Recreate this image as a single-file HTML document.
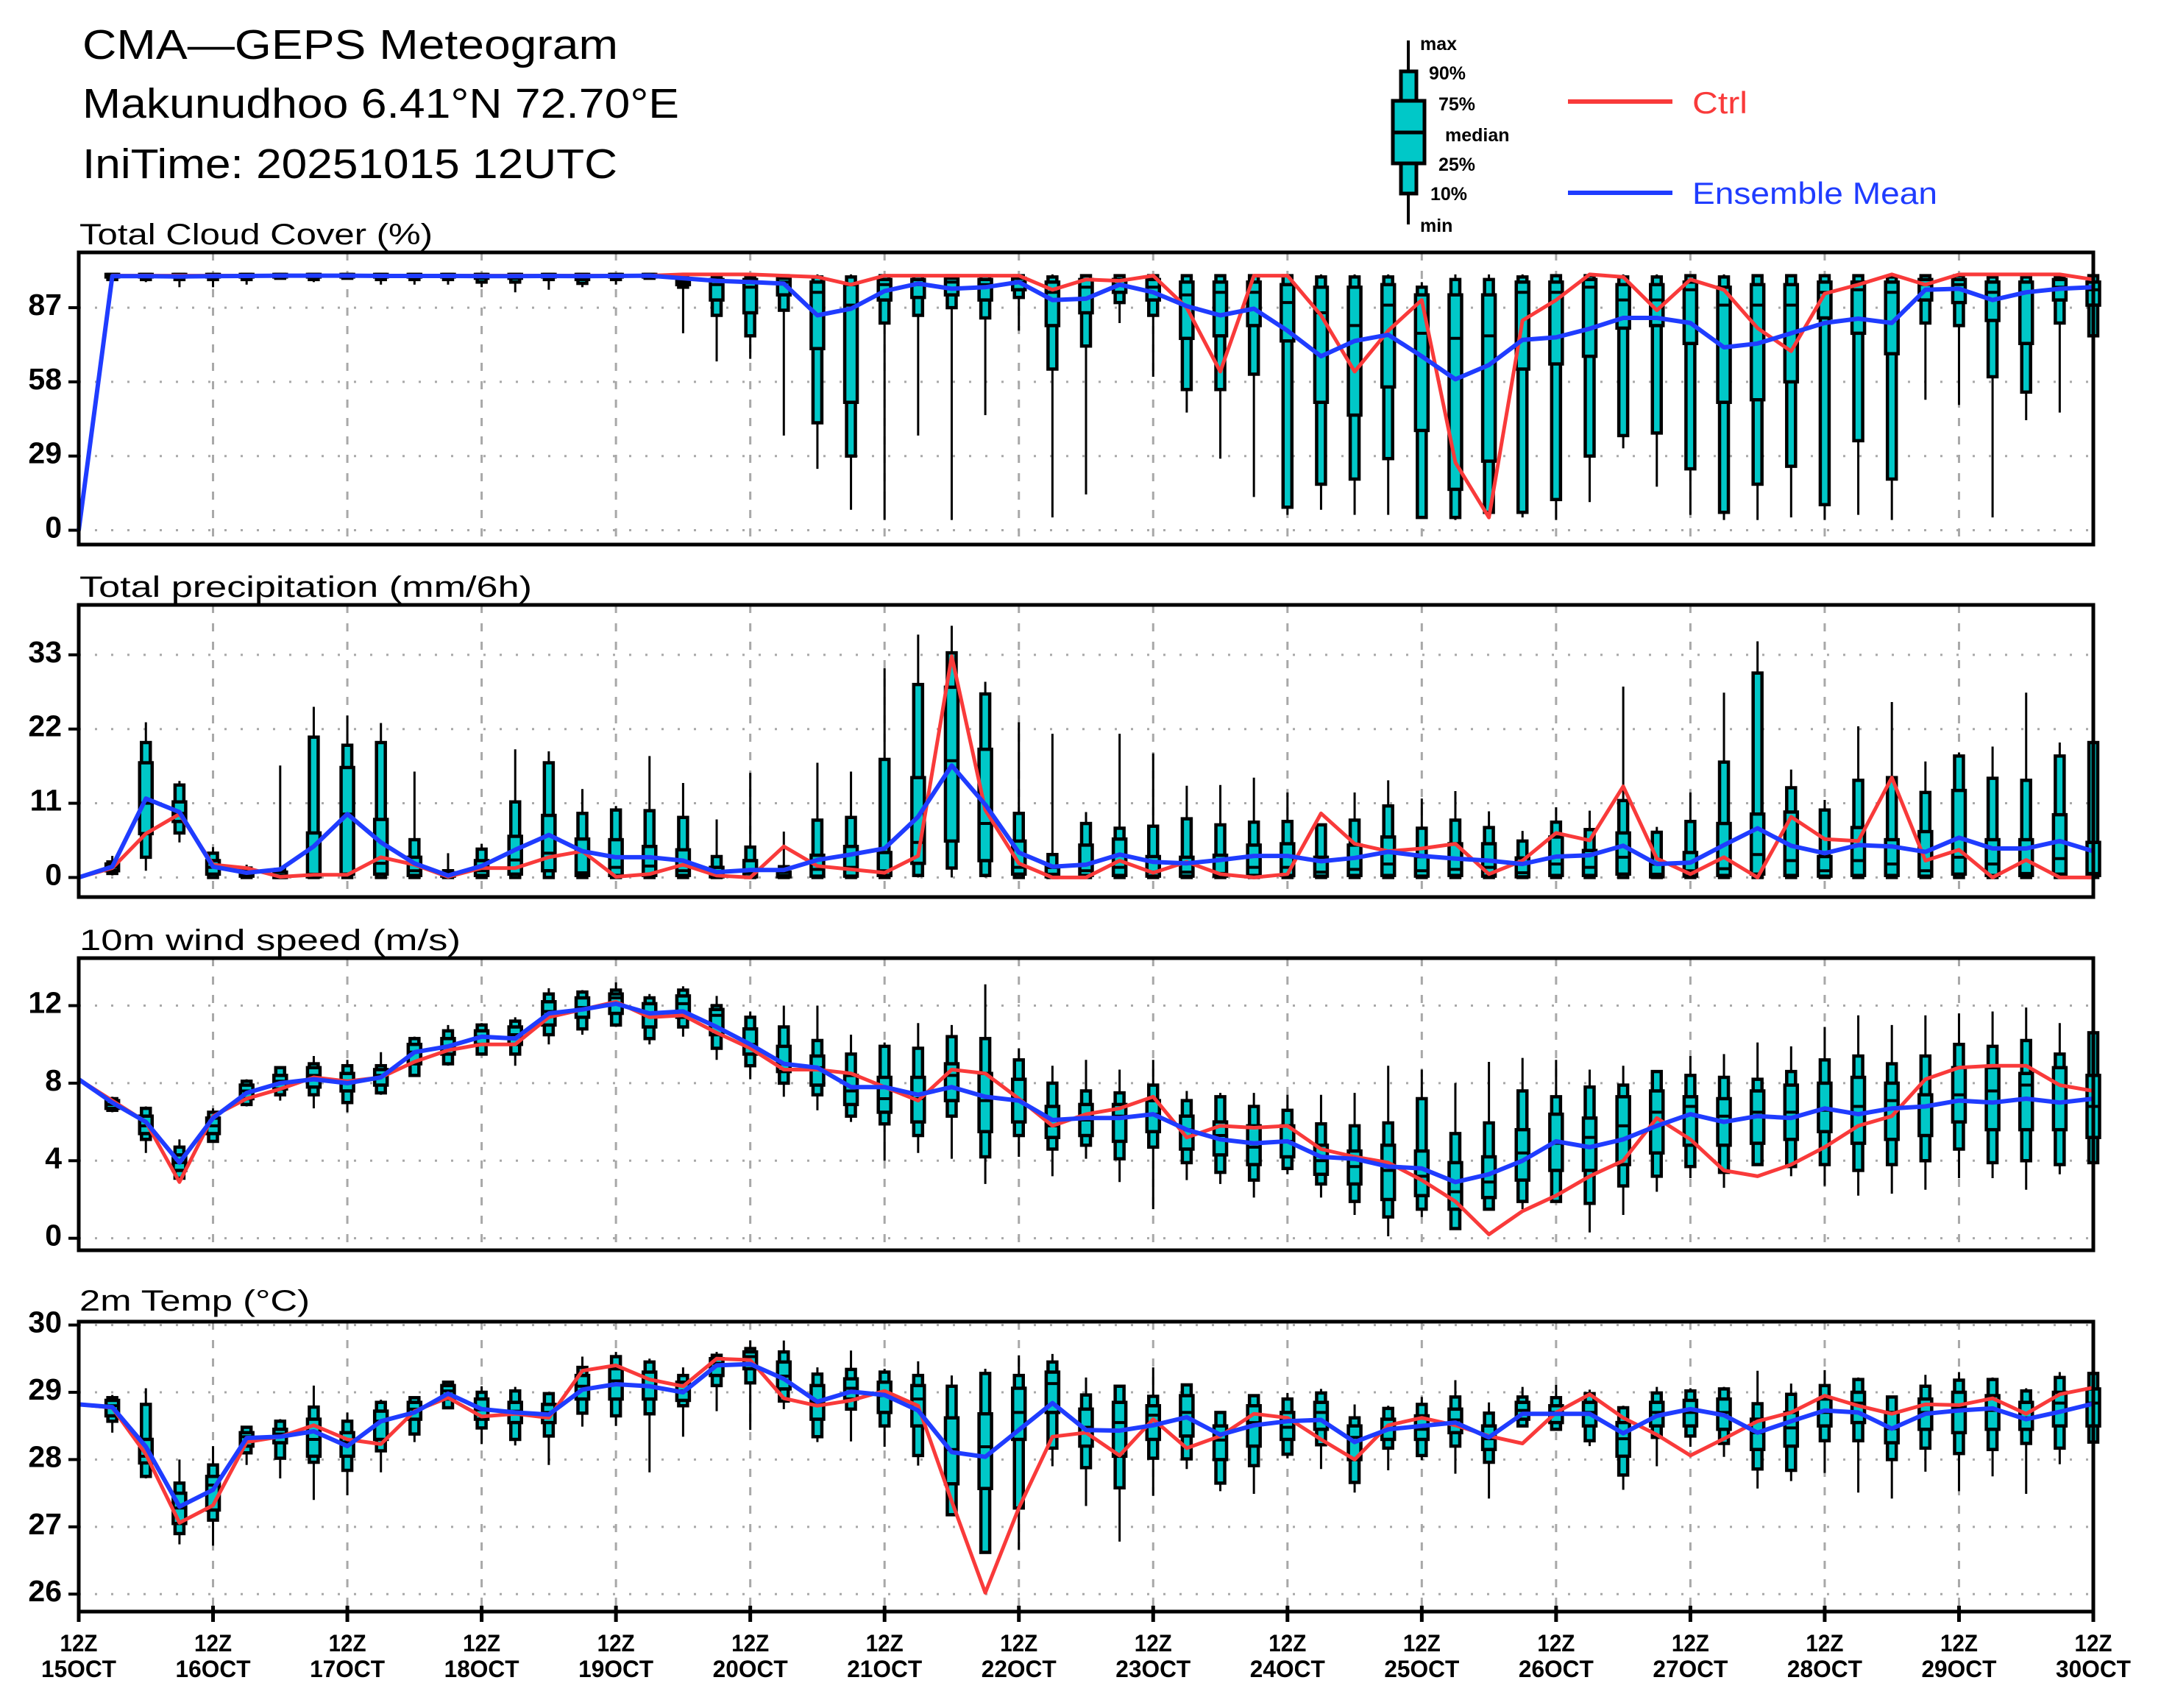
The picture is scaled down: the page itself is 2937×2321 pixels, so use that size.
<!DOCTYPE html>
<html><head><meta charset="utf-8"><style>
html,body{margin:0;padding:0;background:#fff;}
svg{display:block;}
text{font-family:"Liberation Sans",sans-serif;}
</style></head><body>
<svg id="chart" xmlns="http://www.w3.org/2000/svg" width="2937" height="2321" viewBox="0 0 2937 2321">
<rect x="0" y="0" width="2937" height="2321" fill="#fff"/>
<text x="112" y="80" font-size="57" textLength="728" lengthAdjust="spacingAndGlyphs">CMA—GEPS Meteogram</text>
<text x="112" y="160" font-size="57" textLength="811" lengthAdjust="spacingAndGlyphs">Makunudhoo 6.41°N 72.70°E</text>
<text x="112" y="242" font-size="57" textLength="727" lengthAdjust="spacingAndGlyphs">IniTime: 20251015 12UTC</text>
<g>
<line x1="1914" y1="55" x2="1914" y2="305" stroke="#000" stroke-width="4"/>
<rect x="1904" y="97" width="21" height="166" fill="#00c8c8" stroke="#000" stroke-width="5"/>
<rect x="1893" y="137" width="43" height="85" fill="#00c8c8" stroke="#000" stroke-width="5"/>
<line x1="1893" y1="180" x2="1936" y2="180" stroke="#000" stroke-width="5"/>
<g font-size="25" font-weight="bold">
<text x="1930" y="68">max</text><text x="1942" y="108">90%</text><text x="1955" y="150">75%</text>
<text x="1964" y="192">median</text><text x="1955" y="232">25%</text><text x="1944" y="272">10%</text><text x="1930" y="315">min</text>
</g></g>
<g>
<line x1="2131" y1="138" x2="2273" y2="138" stroke="#f93a3a" stroke-width="6"/>
<text x="2300" y="154" font-size="42" fill="#f93a3a" textLength="75" lengthAdjust="spacingAndGlyphs">Ctrl</text></g>
<g>
<line x1="2131" y1="262" x2="2273" y2="262" stroke="#1f3cff" stroke-width="6"/>
<text x="2300" y="277" font-size="42" fill="#1f3cff" textLength="333" lengthAdjust="spacingAndGlyphs">Ensemble Mean</text></g>
</svg>
<script>
// ---- data ----
const dayLabels = ["15OCT","16OCT","17OCT","18OCT","19OCT","20OCT","21OCT","22OCT","23OCT","24OCT","25OCT","26OCT","27OCT","28OCT","29OCT","30OCT"];
const cloudTicks = [0,29,58,87];
const precipTicks = [0,11,22,33];
const windTicks = [0,4,8,12];
const tempTicks = [26,27,28,29,30];
// boxes: [min,p10,p25,median,p75,p90,max], index 1..60
const cloudBox = [null,
[97,98,99,99.5,100,100,100],[97,98,99,99.5,100,100,100],[95,98,99,99.5,100,100,100],[95,98,99,99.5,100,100,100],[96,98,99,99.5,100,100,100],
[98,98.5,99,99.5,100,100,100],[97,98,99,99.5,100,100,100],[98,98.5,99,99.5,100,100,100],[96,98,99,99.5,100,100,100],[96,98,99,99.5,100,100,100],
[96,98,99,99.5,100,100,100],[95,97,98.5,99.5,100,100,100],[93,97,98.5,99.5,100,100,100],[94,98,99,99.5,100,100,100],[95,96.5,98,99.5,100,100,100],
[96,98,99,99.5,100,100,100],[98,98.5,99,99.5,100,100,100],[77,95,96,97,98,99,100],[66,84,90,96,98,99,100],[67,76,85,95,98,99,100],
[37,86,92,97,98.5,99.5,100],[24,42,71,93,97,99,100],[8,29,50,88,96,99,100],[4,81,90,96,98,99.5,100],[37,84,91,96,98,99.5,100],
[4,87,92,97,98.5,99.5,100],[45,83,90,96,98,99.5,100],[78,91,94,97,98.5,99.5,100],[5,63,80,93,97,99,100],[14,72,85,95,98,99.5,100],
[81,89,93,96,98,99.5,100],[60,84,90,95,98,99.5,100],[46,55,75,92,97,99.5,100],[28,55,76,93,97,99.5,100],[13,61,80,93,97,99.5,100],
[6,9,74,89,96,99.5,100],[8,18,50,85,95,99,100],[6,20,45,80,95,99,100],[6,28,56,88,96,99,100],[5,5,39,77,92,95,97],
[4,5,16,75,92,98,100],[5,7,27,76,92,98,100],[5,7,63,93,97,99,100],[4,12,65,93,97,99.5,100],[11,29,68,95,98,99.5,100],
[32,37,79,90,96,99,100],[17,38,80,90,96,99,100],[6,24,73,94,97,99.5,100],[4,7,50,88,95,99,100],[4,18,51,88,96,99.5,100],
[5,25,58,88,96,99.5,100],[4,10,83,93,97,99.5,100],[6,35,77,94,97,99.5,100],[4,20,69,93,97,99,100],[51,81,90,96,98,99.5,100],
[49,80,89,96,98,99.5,100],[5,60,82,93,97,99,100],[43,54,73,93,97,99,100],[46,81,90,95,98,99,100],[40,76,88,94,97,99.5,100]];
const cloudCtrl = [0,99.5,99.5,99.5,99.5,99.5,99.5,99.5,99.5,99.5,99.5,99.5,99.5,99.5,99.5,99.5,99.5,99.5,100,100,100,99.5,99,96,99.5,99.5,99.5,99.5,99.5,94,98,97.5,99.5,87,62,99.5,99.5,84,62,78,90,26.5,5,82,90,100,99,86,98,94,79,70,92.5,96,100,96,100,100,100,100,98];
const cloudMean = [0,99.3,99.3,99.2,99.3,99.4,99.5,99.5,99.5,99.4,99.4,99.4,99.3,99.3,99.4,99.3,99.4,99.5,98.5,97.5,97,96.4,84,86.6,93.5,96.4,94.4,95,97,90,90.5,96,93,87.6,84,86.6,78,68,74,76.4,68,59,64.6,74.4,75.4,78.8,83,83,81,71.5,73,77,81,82.7,81,94,94.4,90,93,94.4,95];

const precipBox = [null,
[0.3,0.6,1,1.5,2,2.3,3.2],[1,3,6.5,11,17,20,23],[5.2,6.6,8.3,9.5,11.2,13.7,14.3],[0,0,0.5,1.5,2.5,3.6,4.5],[0,0,0.2,0.6,1,1.4,1.9],
[0,0,0,0.3,0.8,1.2,16.6],[0,0,0.1,0.5,6.6,20.8,25.3],[0,0,0.5,9.4,16.3,19.6,24],[0,0,0.5,2.1,8.6,20,22.9],[0,0,0.3,1,3,5.6,15.7],
[0,0,0.2,0.4,0.7,1,3.6],[0,0,0.3,1,2.5,4.2,5],[0,0,0.5,2.6,6.1,11.2,19],[0,0,1,3.6,9.2,17,18.7],[0,0,0.3,0.7,5.7,9.5,13.1],
[0,0,0.3,1.5,5.6,10,10.6],[0,0,0.3,1.7,4.6,9.9,18],[0,0,0.3,1,4.1,8.9,14],[0,0,0.1,0.4,1.5,3.1,8.6],[0,0,0.1,0.6,2.5,4.5,15.5],
[0,0,0.1,0.3,0.8,1.6,6.8],[0,0,0.2,1.2,3.3,8.5,17],[0,0,0.2,1.5,4.6,8.9,15.7],[0,0,0.3,1,3.7,17.5,31],[0,0.3,2.1,5.2,14.8,28.6,36],
[0,1.4,5.4,17.3,28.2,33.3,37.3],[0,0.3,2.5,8,19,27.2,29],[0,0,0.5,1.5,5.4,9.5,23],[0,0,0.1,0.5,1.5,3.4,21.3],[0,0,0.3,1,4.8,8,9.7],
[0,0,0.3,1.5,5.7,7.3,21.3],[0,0,0.2,0.8,3.1,7.6,18.4],[0,0,0.2,0.8,3,8.7,13.6],[0,0,0.2,0.6,3.3,7.8,13.7],[0,0,0.3,1.5,4.8,8.2,14.8],
[0,0,0.3,1.5,5,8.3,12.6],[0,0,0.2,0.8,3,7.8,7.8],[0,0,0.3,1.2,4.8,8.5,12.6],[0,0,0.3,2,6,10.6,14.4],[0,0,0.2,1,3.1,7.3,11.7],
[0,0,0.3,1.2,5,8.5,12.8],[0,0,0.2,1.5,5,7.4,9.8],[0,0,0.1,0.7,2.9,5.4,6.9],[0,0,0.3,2,6,8.2,10.4],[0,0,0.3,1.5,4,7.1,9.9],
[0,0,0.5,3,6.6,11.4,28.3],[0,0,0.1,0.5,2,6.7,7.5],[0,0,0.2,1,3.7,8.3,12.6],[0,0,0.3,1.3,8,17.1,27.4],[0,0,0.5,3.4,9.4,30.3,35],
[0,0,0.3,2.5,9.7,13.3,16],[0,0,0.2,1,3.1,10,11.5],[0,0,0.3,2.5,7.4,14.4,22.4],[0,0,0.3,2,5.6,14.8,26],[0,0,0.2,1,6.8,12.6,17.2],
[0,0,0.5,3,12.9,18,18.5],[0,0,0.3,2,5.6,14.7,19.4],[0,0,0.3,0.6,5.6,14.4,27.4],[0,0,0.5,2.8,9.3,18,20],[0,0,0.3,0.6,5.2,20,20]];
const precipCtrl = [0,1.4,6.5,9.4,1.9,1.4,0.1,0.4,0.4,3,1.9,0.1,1.4,1.4,3,3.9,0.1,0.5,1.9,0.3,0,4.6,1.7,1.2,0.7,3.2,32.8,10,2.1,0,0,2.5,0.7,2.3,0.5,0,0.5,9.5,5,3.9,4.3,5,0.5,2.5,6.6,5.5,13.5,2.8,0.5,3,0,9,5.7,5.4,14.8,2.5,4.1,0,2.6,0,0];
const precipMean = [0,1.6,11.7,9.7,1.6,0.7,1.2,4.6,9.4,5.2,2.1,0.3,1.7,4.1,6.3,3.9,3,3,2.5,0.8,1.1,1.1,2.6,3.4,4.3,9,16.6,10.8,3.7,1.6,1.9,3.4,2.3,2.1,2.6,3.2,3.2,2.4,2.9,3.8,3.2,2.8,2.5,2,3.1,3.3,4.7,2,2.2,4.8,7.3,4.7,3.6,4.8,4.6,3.8,5.9,4.3,4.3,5.4,3.9];

const windBox = [null,
[6.5,6.6,6.7,6.9,7.1,7.2,7.3],[4.4,5.1,5.4,5.8,6.3,6.7,6.8],[3.0,3.1,3.5,3.9,4.3,4.7,5.1],[5.0,5.0,5.4,5.8,6.2,6.5,6.7],[6.8,6.9,7.2,7.6,7.9,8.1,8.2],
[7.1,7.4,7.7,8.1,8.4,8.8,8.8],[6.7,7.4,7.8,8.4,8.8,9.0,9.4],[6.5,7.0,7.6,8.1,8.5,8.9,9.2],[7.4,7.5,7.9,8.4,8.7,8.9,9.6],[8.4,8.4,9.0,9.6,10.0,10.3,10.4],
[8.9,9.0,9.5,9.9,10.3,10.7,11.0],[9.5,9.5,10.0,10.4,10.7,11.0,11.1],[8.9,9.5,10.0,10.5,10.9,11.2,11.4],[10.0,10.5,11.0,11.7,12.2,12.6,12.9],[10.5,10.8,11.4,11.9,12.4,12.7,12.8],
[10.9,11.0,11.6,12.4,12.6,12.8,13.2],[10.0,10.3,10.9,11.6,12.1,12.4,12.6],[10.4,10.9,11.4,12.1,12.5,12.8,13.0],[9.2,9.8,10.5,11.5,11.8,12.0,12.5],[8.2,8.9,9.5,10.0,10.8,11.4,11.7],
[7.3,8.0,8.6,9.0,9.9,10.9,12.0],[6.6,7.4,7.9,8.8,9.4,10.2,12.0],[6.0,6.3,6.9,7.6,8.4,9.5,10.5],[4.0,5.9,6.5,7.2,8.3,9.9,10.1],[4.4,5.3,6.0,7.2,8.3,9.8,11.1],
[4.1,6.3,7.1,8.4,9.0,10.4,11.0],[2.8,4.2,5.5,7.1,8.5,10.3,13.1],[4.2,5.3,6.0,7.1,8.2,9.2,9.8],[3.2,4.6,5.2,5.8,6.8,8.0,8.9],[4.1,4.8,5.3,6.1,6.9,7.6,9.2],
[2.9,4.1,5.0,6.3,6.9,7.5,8.7],[1.5,4.7,5.5,6.4,7.1,7.9,9.2],[3.0,3.9,4.6,5.6,6.3,7.1,7.6],[2.8,3.4,4.3,5.3,6.0,7.3,7.5],[2.1,3.0,3.8,4.7,5.8,6.8,7.5],
[3.3,3.6,4.2,5.0,5.8,6.6,7.4],[2.1,2.8,3.3,4.0,4.8,5.9,7.4],[1.2,1.9,2.8,3.7,4.5,5.8,7.5],[0.1,1.1,2.0,3.5,4.8,5.95,8.9],[1.1,1.5,2.2,3.2,4.5,7.2,8.7],
[0.5,0.5,1.5,2.4,3.9,5.4,8.0],[1.5,1.5,2.1,2.9,4.2,5.95,9.1],[1.5,1.9,3.0,4.4,5.6,7.6,9.3],[1.9,1.9,3.5,4.9,6.4,7.3,9.2],[0.3,1.8,3.5,5.2,6.2,7.8,8.7],
[1.2,2.7,3.8,5.8,7.3,7.9,8.9],[2.4,3.2,4.4,6.5,7.6,8.6,8.6],[3.1,3.7,4.8,6.8,7.3,8.4,9.4],[2.6,3.4,4.8,6.3,7.2,8.3,9.5],[3.8,3.8,4.9,6.5,7.6,8.2,10.1],
[3.2,3.7,5.1,6.5,7.9,8.6,9.9],[2.7,3.8,5.5,6.6,8.0,9.2,10.9],[2.2,3.5,4.9,6.8,8.3,9.4,11.5],[2.3,3.8,5.1,7.1,8.0,9.0,11.0],[2.5,4.0,5.3,6.8,7.4,9.4,11.5],
[3.1,4.6,6.0,7.4,8.8,10.0,11.6],[3.1,3.9,5.6,7.6,8.8,9.9,11.7],[2.5,4.0,5.6,7.9,8.5,10.2,11.9],[3.3,3.8,5.6,7.0,8.8,9.5,11.1],[3.9,3.9,5.2,6.8,8.4,10.6,10.6]];
const windCtrl = [8.2,7.1,6,2.9,6.3,7.2,7.7,8.3,8.1,8.3,9.1,9.7,10,10,11.4,11.8,12.2,11.4,11.5,10.6,9.8,8.7,8.7,8.5,7.8,7.1,8.7,8.5,7.2,5.8,6.4,6.7,7.3,5.2,5.8,5.7,5.8,4.6,4.2,3.9,3,1.9,0.2,1.4,2.2,3.2,4,6.2,5.1,3.5,3.2,3.8,4.7,5.8,6.3,8.2,8.8,8.9,8.9,7.9,7.6];
const windMean = [8.2,7,6,3.9,6.2,7.5,8,8.2,8,8.3,9.6,9.9,10.4,10.3,11.6,11.8,12.1,11.6,11.7,10.9,10,9,8.8,7.8,7.8,7.4,7.8,7.3,7.1,6.1,6.2,6.2,6.4,5.6,5.1,4.9,5,4.2,4.1,3.7,3.6,2.9,3.3,4,5,4.7,5.1,5.8,6.4,6,6.3,6.2,6.7,6.4,6.7,6.8,7.1,7,7.2,7,7.2];

const tempBox = [null,
[28.4,28.57,28.65,28.8,28.88,28.92,28.96],[27.72,27.75,27.95,28.05,28.3,28.82,29.06],[26.74,26.9,27.05,27.28,27.5,27.65,28.0],[26.72,27.1,27.25,27.62,27.75,27.92,28.2],[27.92,28.1,28.2,28.34,28.4,28.48,28.5],
[27.72,28.02,28.25,28.38,28.45,28.57,28.6],[27.4,27.96,28.05,28.3,28.6,28.78,29.1],[27.47,27.84,28.05,28.26,28.4,28.57,28.7],[27.81,28.13,28.3,28.57,28.72,28.85,28.89],[28.26,28.38,28.6,28.75,28.85,28.92,28.94],
[28.77,28.77,28.9,29.02,29.1,29.15,29.17],[28.23,28.47,28.6,28.74,28.9,29.0,29.09],[28.21,28.3,28.55,28.72,28.85,29.02,29.08],[27.92,28.35,28.55,28.7,28.82,28.98,29.0],[28.49,28.69,28.9,29.09,29.25,29.37,29.53],
[28.5,28.65,28.9,29.17,29.35,29.53,29.6],[27.81,28.68,28.9,29.09,29.3,29.45,29.5],[28.34,28.8,28.88,29.02,29.15,29.25,29.37],[28.72,29.1,29.25,29.43,29.5,29.55,29.6],[28.44,29.14,29.35,29.53,29.6,29.65,29.77],
[28.75,28.87,29.05,29.24,29.45,29.6,29.77],[28.26,28.34,28.6,28.84,29.1,29.27,29.37],[28.27,28.75,28.9,29.06,29.2,29.34,29.62],[28.19,28.5,28.7,28.95,29.15,29.3,29.35],[27.91,28.06,28.5,28.9,29.1,29.25,29.46],
[27.18,27.18,27.64,28.15,28.62,29.09,29.25],[26.62,26.62,27.57,28.19,28.68,29.28,29.35],[26.66,27.28,28.3,28.7,29.06,29.25,29.55],[27.9,28.17,28.7,29.13,29.3,29.45,29.57],[27.31,27.88,28.2,28.48,28.75,28.96,29.22],
[26.78,27.58,28.05,28.55,28.85,29.09,29.1],[27.46,28.02,28.3,28.66,28.8,28.94,29.37],[27.86,28.01,28.35,28.7,28.95,29.11,29.13],[27.53,27.65,28.0,28.29,28.5,28.7,28.72],[27.49,27.91,28.2,28.55,28.8,28.95,28.97],
[28.02,28.08,28.3,28.48,28.7,28.9,28.99],[27.86,28.22,28.45,28.7,28.85,28.99,29.05],[27.51,27.66,28.0,28.33,28.5,28.62,28.82],[27.84,28.17,28.3,28.45,28.6,28.76,28.8],[27.99,28.06,28.3,28.45,28.65,28.82,28.93],
[27.79,28.2,28.4,28.59,28.75,28.93,29.18],[27.42,27.96,28.15,28.31,28.5,28.69,28.85],[28.48,28.5,28.6,28.73,28.85,28.93,29.08],[28.43,28.45,28.55,28.7,28.8,28.92,29.11],[28.2,28.28,28.5,28.7,28.85,28.98,29.04],
[27.55,27.77,28.05,28.31,28.55,28.77,28.8],[27.9,28.33,28.5,28.7,28.85,28.99,29.08],[28.19,28.35,28.5,28.7,28.88,29.02,29.06],[28.04,28.24,28.45,28.7,28.9,29.05,29.08],[27.57,27.86,28.15,28.4,28.6,28.83,29.32],
[27.68,27.84,28.2,28.47,28.7,28.97,29.13],[27.8,28.28,28.5,28.7,28.9,29.1,29.33],[27.51,28.28,28.55,28.84,29.0,29.19,29.22],[27.42,28.0,28.25,28.46,28.7,28.93,28.95],[27.82,28.17,28.45,28.7,28.9,29.09,29.26],
[27.53,28.09,28.4,28.77,29.0,29.18,29.3],[27.75,28.15,28.45,28.73,28.95,29.19,29.22],[27.49,28.24,28.45,28.62,28.85,29.02,29.06],[27.93,28.17,28.5,28.84,29.0,29.22,29.3],[28.0,28.26,28.5,28.84,29.05,29.28,29.35]];
const tempCtrl = [28.82,28.77,28.08,27.06,27.32,28.26,28.34,28.51,28.3,28.23,28.72,28.92,28.64,28.68,28.62,29.32,29.4,29.19,29.09,29.5,29.48,28.91,28.8,28.88,29.02,28.8,27.38,26.02,27.28,28.34,28.4,28.06,28.6,28.17,28.35,28.68,28.62,28.3,28.0,28.51,28.62,28.51,28.35,28.24,28.7,28.97,28.62,28.37,28.06,28.31,28.57,28.7,28.95,28.8,28.68,28.82,28.81,28.91,28.68,28.97,29.07];
const tempMean = [28.82,28.78,28.19,27.3,27.55,28.32,28.34,28.42,28.2,28.57,28.7,28.98,28.75,28.7,28.67,29.04,29.12,29.09,29.0,29.4,29.42,29.2,28.86,29.01,28.96,28.73,28.11,28.04,28.44,28.84,28.44,28.43,28.51,28.63,28.37,28.51,28.57,28.59,28.26,28.45,28.5,28.55,28.33,28.68,28.68,28.68,28.39,28.65,28.75,28.66,28.4,28.57,28.73,28.7,28.46,28.68,28.73,28.76,28.6,28.71,28.83];

// ---- drawing ----
const NS = "http://www.w3.org/2000/svg";
const svg = document.getElementById("chart");
const X0 = 107, X1 = 2845, NSTEP = 60;
function xAt(i){ return X0 + i*(X1-X0)/NSTEP; }
function mk(tag, attrs, parent){
  const el = document.createElementNS(NS, tag);
  for (const k in attrs) el.setAttribute(k, attrs[k]);
  (parent||svg).appendChild(el);
  return el;
}
function drawPanel(key, title, titleLen, titleY, top, bot, vmin, vmax, ticks, boxes, ctrl, mean, bottomAxis){
  const yAt = v => bot - (v - vmin)/(vmax - vmin)*(bot - top);
  const g = mk("g", {});
  
  
  const t = mk("text", {x:108, y:titleY, "font-size":40, textLength:titleLen, lengthAdjust:"spacingAndGlyphs"}, g);
  t.textContent = title;
  
  
  for (let d = 1; d < dayLabels.length - 1; d++){
    const gx = xAt(d*4);
    const gl = mk("line", {x1:gx, y1:top, x2:gx, y2:bot, stroke:"#a8a8a8", "stroke-width":3, "stroke-dasharray":"11 14"}, g);
    
    
  }
  ticks.forEach(v => {
    const ty = yAt(v);
    const hl = mk("line", {x1:X0, y1:ty, x2:X1, y2:ty, stroke:"#a8a8a8", "stroke-width":3, "stroke-dasharray":"3 19"}, g);
    
    
    mk("line", {x1:93, y1:ty, x2:X0, y2:ty, stroke:"#000", "stroke-width":4}, g);
    const tl = mk("text", {x:84, y:ty+10, "font-size":41, "font-weight":"bold", "text-anchor":"end"}, g);
    tl.textContent = String(v);
    
    
  });
  for (let i = 1; i < boxes.length; i++){
    const b = boxes[i]; if (!b) continue;
    const bx = xAt(i);
    const bg = mk("g", {}, g);
    
    
    mk("line", {x1:bx, y1:yAt(b[0]), x2:bx, y2:yAt(b[6]), stroke:"#000", "stroke-width":3}, bg);
    mk("rect", {x:bx-6, y:yAt(b[5]), width:12, height:Math.max(1, yAt(b[1])-yAt(b[5])), fill:"#00c8c8", stroke:"#000", "stroke-width":4.5}, bg);
    mk("rect", {x:bx-8.5, y:yAt(b[4]), width:17, height:Math.max(1, yAt(b[2])-yAt(b[4])), fill:"#00c8c8", stroke:"#000", "stroke-width":4.5}, bg);
    mk("line", {x1:bx-8.5, y1:yAt(b[3]), x2:bx+8.5, y2:yAt(b[3]), stroke:"#000", "stroke-width":4}, bg);
  }
  const pts = arr => arr.map((v,i) => xAt(i).toFixed(1) + "," + yAt(v).toFixed(1)).join(" ");
  const cl = mk("polyline", {points:pts(ctrl), fill:"none", stroke:"#f93a3a", "stroke-width":5, "stroke-linejoin":"round"}, g);
  
  
  const ml = mk("polyline", {points:pts(mean), fill:"none", stroke:"#1f3cff", "stroke-width":6, "stroke-linejoin":"round"}, g);
  
  
  const fr = mk("rect", {x:X0, y:top, width:X1-X0, height:bot-top, fill:"none", stroke:"#000", "stroke-width":5}, g);
  
  
  if (bottomAxis){
    dayLabels.forEach((lab, d) => {
      const tx = xAt(d*4);
      mk("line", {x1:tx, y1:bot-8, x2:tx, y2:bot+14, stroke:"#000", "stroke-width":5}, g);
      const a = mk("text", {x:tx, y:2244, "font-size":32, "font-weight":"bold", "text-anchor":"middle", textLength:51, lengthAdjust:"spacingAndGlyphs"}, g);
      a.textContent = "12Z";
      
      
      const b2 = mk("text", {x:tx, y:2279, "font-size":32, "font-weight":"bold", "text-anchor":"middle", textLength:102, lengthAdjust:"spacingAndGlyphs"}, g);
      b2.textContent = lab;
      
      
    });
  }
}
drawPanel("cloud", "Total Cloud Cover (%)", 480, 332, 343, 740, -5.6, 108.6, cloudTicks, cloudBox, cloudCtrl, cloudMean, false);
drawPanel("precip", "Total precipitation (mm/6h)", 615, 811, 822, 1219, -2.9, 40.4, precipTicks, precipBox, precipCtrl, precipMean, false);
drawPanel("wind", "10m wind speed (m/s)", 518, 1291, 1302, 1699, -0.62, 14.45, windTicks, windBox, windCtrl, windMean, false);
drawPanel("temp", "2m Temp (°C)", 313, 1781, 1796, 2190, 25.74, 30.05, tempTicks, tempBox, tempCtrl, tempMean, true);
</script>
</body></html>
